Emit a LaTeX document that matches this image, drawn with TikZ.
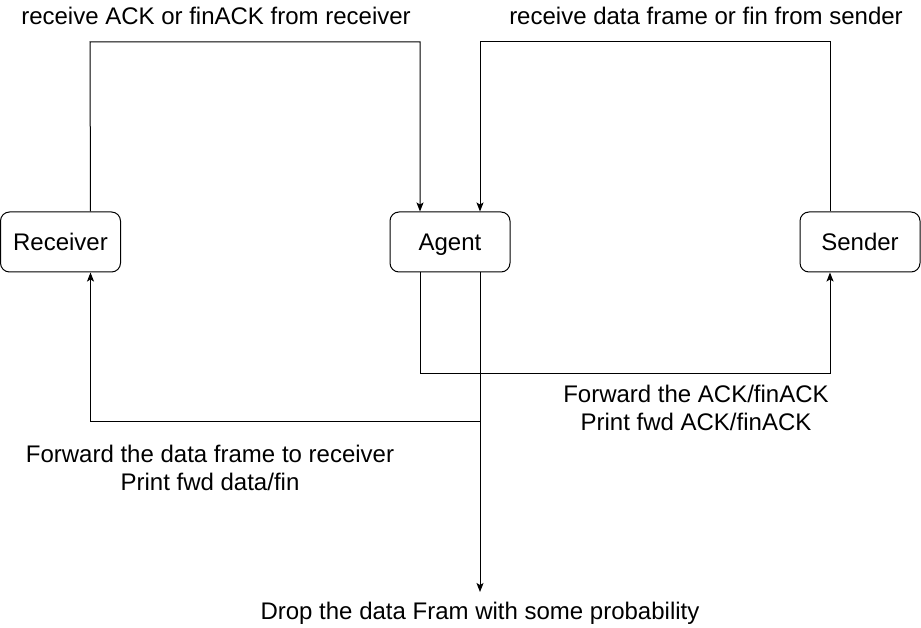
\documentclass[tikz,border=0pt]{standalone}
\usepackage{fontspec}
\setmainfont{Liberation Sans}
\usetikzlibrary{arrows.meta}
\begin{document}
\begin{tikzpicture}[x=1pt,y=-1pt,
  box/.style={draw=black,line width=1pt,rounded corners=9pt,minimum width=120pt,minimum height=60pt,inner sep=0pt,text height=17pt,text depth=0pt,font=\fontsize{24}{28}\selectfont},
  lbl/.style={align=center,inner sep=0pt,font=\fontsize{24}{28}\selectfont},
  conn/.style={line width=1pt,-{Stealth[length=9pt,width=7pt,inset=2pt]}}]
\useasboundingbox (0,0) rectangle (921,628);
\node[box] (rec) at (60.5,242) {Receiver};
\node[box] (ag) at (450,242) {Agent};
\node[box] (snd) at (860,242) {Sender};
\node[lbl] (l1) at (216,16) {receive ACK or finACK from receiver};
\node[lbl] (l2) at (706,16) {receive data frame or fin from sender};
\node[lbl] (l3) at (696,408) {Forward the ACK/finACK\\Print fwd ACK/finACK};
\node[lbl] (l4) at (210,468) {Forward the data frame to receiver\\Print fwd data/fin};
\node[lbl] (l5) at (480,613) {Drop the data Fram with some probability};
\coordinate (t1) at (90,42);
\coordinate (t2) at (830,42);
\coordinate (b1) at (420,373);
\coordinate (j) at (480,421);
\coordinate (dend) at (480,592);
\draw[conn] ([xshift=30pt]rec.north) -- (t1) -| ([xshift=-30pt]ag.north);
\draw[conn] ([xshift=-30pt]snd.north) -- (t2) -| ([xshift=30pt]ag.north);
\draw[conn] ([xshift=-30pt]ag.south) -- (b1) -| ([xshift=-30pt]snd.south);
\draw[conn] ([xshift=30pt]ag.south) -- (dend);
\draw[conn] (j) -| ([xshift=30pt]rec.south);
\end{tikzpicture}
\end{document}
